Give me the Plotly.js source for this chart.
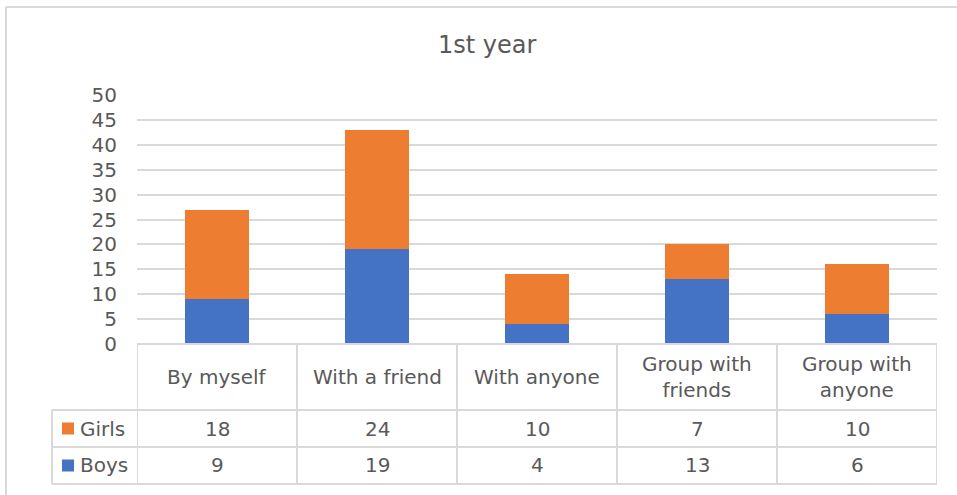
<!DOCTYPE html>
<html>
<head>
<meta charset="utf-8">
<script src="https://cdn.plot.ly/plotly-3.0.1.min.js"></script>
<style>html,body{margin:0;padding:0;background:#fff;}#chart{width:957px;height:495px;}</style>
</head>
<body>
<div id="chart"></div>
<script>
var categories = ["By myself", "With a friend", "With anyone", "Group with friends", "Group with anyone"];
var categoryLabels = ["By myself", "With a friend", "With anyone", "Group with<br>friends", "Group with<br>anyone"];
var seriesNames = ["Boys", "Girls"];
var boys = [9, 19, 4, 13, 6];
var girls = [18, 24, 10, 7, 10];
var yTicks = [0, 5, 10, 15, 20, 25, 30, 35, 40, 45, 50];

var BLUE = "#4472c4", ORANGE = "#ed7d31", GRID = "#d9d9d9", TXT = "#595959";
var FONT = "'DejaVu Sans', sans-serif";
var xIdx = categories.map(function(c, i){ return i; });

var traces = [
  {type: "bar", name: seriesNames[0], x: xIdx, y: boys, marker: {color: BLUE}, hoverinfo: "y"},
  {type: "bar", name: seriesNames[1], x: xIdx, y: girls, marker: {color: ORANGE}, hoverinfo: "y"}
];

// table geometry in paper coordinates (plot area spans 137..937 px, 95..344 px)
var H = 249, W = 800;
var yHeadBot = -66 / H, yGirlsBot = -103 / H, yBoysBot = -140 / H;
var xLeft = -85 / W;
var lineStyle = {color: GRID, width: 2};
var shapes = [];
function hline(y, x0, x1){ shapes.push({type: "line", xref: "paper", yref: "paper", x0: x0, x1: x1, y0: y, y1: y, line: lineStyle, layer: "above"}); }
function vline(x, y0, y1, xref){ shapes.push({type: "line", xref: xref || "paper", yref: "paper", x0: x, x1: x, y0: y0, y1: y1, line: lineStyle, layer: "above"}); }
hline(0, 0, 1);
hline(yHeadBot, xLeft, 1);
hline(yGirlsBot, xLeft, 1);
hline(yBoysBot, xLeft, 1);
vline(xLeft, yHeadBot, yBoysBot);
for (var i = 0; i <= categories.length; i++) vline(i - 0.5, 0, yBoysBot, "x");
// outer chart border (top & left visible)
var bTop = 337 / H, bLeft = -131 / W;
shapes.push({type: "line", xref: "paper", yref: "paper", x0: bLeft, x1: 1.1, y0: bTop, y1: bTop, line: {color: GRID, width: 2}});
shapes.push({type: "line", xref: "paper", yref: "paper", x0: bLeft, x1: bLeft, y0: bTop, y1: -0.7, line: {color: GRID, width: 2}});
// legend key squares
function keySq(yc, col){ shapes.push({type: "rect", xref: "paper", yref: "paper", x0: -75 / W, x1: -63 / W, y0: yc - 6 / H, y1: yc + 6 / H, fillcolor: col, line: {width: 0}}); }
keySq((yHeadBot + yGirlsBot) / 2, ORANGE);
keySq((yGirlsBot + yBoysBot) / 2, BLUE);

var ann = [];
var tf = {family: FONT, size: 20, color: TXT};
categoryLabels.forEach(function(lbl, i){
  ann.push({x: i, xref: "x", y: yHeadBot / 2, yref: "paper", text: lbl, showarrow: false, font: tf, xanchor: "center", yanchor: "middle"});
  ann.push({x: i, xref: "x", y: (yHeadBot + yGirlsBot) / 2, yref: "paper", text: String(girls[i]), showarrow: false, font: tf, xanchor: "center", yanchor: "middle"});
  ann.push({x: i, xref: "x", y: (yGirlsBot + yBoysBot) / 2, yref: "paper", text: String(boys[i]), showarrow: false, font: tf, xanchor: "center", yanchor: "middle"});
});
ann.push({x: -59 / W, xref: "paper", y: (yHeadBot + yGirlsBot) / 2, yref: "paper", text: seriesNames[1], showarrow: false, font: tf, xanchor: "left", yanchor: "middle"});
ann.push({x: -59 / W, xref: "paper", y: (yGirlsBot + yBoysBot) / 2, yref: "paper", text: seriesNames[0], showarrow: false, font: tf, xanchor: "left", yanchor: "middle"});

var layout = {
  width: 957, height: 495,
  margin: {l: 137, r: 20, t: 95, b: 151},
  paper_bgcolor: "#fff", plot_bgcolor: "#fff",
  barmode: "stack", bargap: 0.6,
  showlegend: false,
  title: {text: "1st year", x: 0.509, xanchor: "center", y: 0.91, yanchor: "middle", font: {family: FONT, size: 24, color: TXT}},
  xaxis: {range: [-0.5, 4.5], showticklabels: false, showgrid: false, zeroline: false, showline: false, fixedrange: true},
  yaxis: {range: [0, 50], tickvals: yTicks, showgrid: true, gridcolor: GRID, gridwidth: 2, zeroline: false, showline: false,
          tickfont: {family: FONT, size: 20, color: TXT}, ticks: "", ticklen: 0, ticklabelstandoff: 19, automargin: false, fixedrange: true},
  shapes: shapes,
  annotations: ann,
  font: {family: FONT, color: TXT}
};
Plotly.newPlot("chart", traces, layout, {displayModeBar: false, staticPlot: true});
</script>
</body>
</html>
